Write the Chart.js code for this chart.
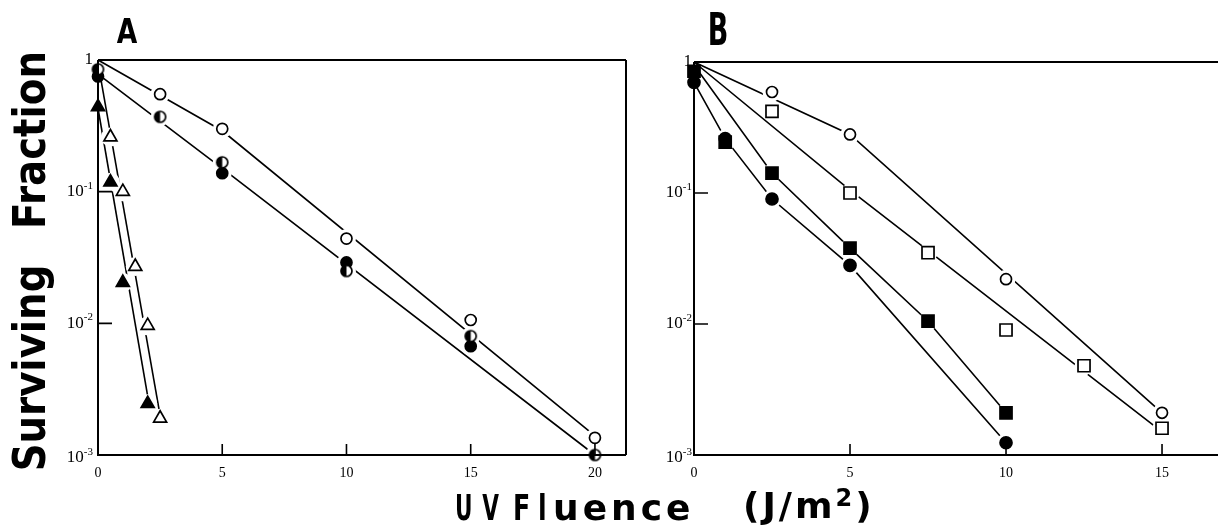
<!DOCTYPE html>
<html>
<head>
<meta charset="utf-8">
<script src="https://cdn.jsdelivr.net/npm/chart.js@4.4.0/dist/chart.umd.min.js"></script>
<style>
  html, body { margin: 0; padding: 0; background: #fff; overflow: hidden; width: 1218px; height: 526px; }
  canvas { position: absolute; top: 0; }
  .lbl { position: absolute; font-family: 'DejaVu Sans', sans-serif; font-weight: bold; color: #000; white-space: nowrap; line-height: 1; }
</style>
</head>
<body>
<canvas id="chartA" width="640" height="526" style="left:0"></canvas>
<canvas id="chartB" width="680" height="526" style="left:600px"></canvas>

<div class="lbl" style="left:127px;top:31px;font-size:34px;transform:translate(-50%,-50%) scaleX(0.78)">A</div>
<div class="lbl" style="left:718px;top:29px;font-size:45px;transform:translate(-50%,-50%) scaleX(0.6)">B</div>
<div class="lbl" style="left:29px;top:140px;font-size:45px;transform:translate(-50%,-50%) rotate(-90deg) scaleX(0.86)">Fraction</div>
<div class="lbl" style="left:29px;top:368px;font-size:45px;transform:translate(-50%,-50%) rotate(-90deg) scaleX(0.86)">Surviving</div>
<div class="lbl" style="left:455px;top:490px;font-size:36px;letter-spacing:16px;transform-origin:left top;transform:scaleX(0.6)">UV</div>
<div class="lbl" style="left:513px;top:490px;font-size:36px;letter-spacing:11px;transform-origin:left top;transform:scaleX(0.7)">Fl</div>
<div class="lbl" style="left:553px;top:490px;font-size:36px;letter-spacing:4px">uence</div>
<div class="lbl" style="left:743px;top:486px;font-size:36px;letter-spacing:3px">(J/m<span style="font-size:24px;vertical-align:12px">2</span>)</div>

<script>
// tick values / labels
var xTicksA = [0, 5, 10, 15, 20];
var xTicksB = [0, 5, 10, 15];
var yTicks = [0.001, 0.01, 0.1, 1];
var yTickBase = ['10', '10', '10', '1'];
var yTickExp = ['-3', '-2', '-1', ''];

// ---- panel A ----
var aOpenCircX = [2.5, 5, 10, 15, 20];
var aOpenCircY = [0.55, 0.30, 0.044, 0.0106, 0.00135];
var aHalfCircX = [0, 2.5, 5, 10, 15, 20];
var aHalfCircY = [0.85, 0.37, 0.167, 0.025, 0.008, 0.001];
var aFillCircX = [0, 5, 10, 15];
var aFillCircY = [0.75, 0.138, 0.029, 0.0067];
var aFillTriX = [0, 0.5, 1, 2];
var aFillTriY = [0.44, 0.118, 0.0204, 0.00245];
var aOpenTriX = [0.5, 1, 1.5, 2, 2.5];
var aOpenTriY = [0.26, 0.10, 0.027, 0.0096, 0.0019];
// curves drawn through the points
var aUpperFitX = [0, 5, 20],  aUpperFitY = [1, 0.29, 0.0014];
var aLowerFitX = [0, 5, 20],  aLowerFitY = [0.78, 0.15, 0.001];
var aFillTriFitX = [0, 2],    aFillTriFitY = [0.43, 0.0028];
var aOpenTriFitX = [0, 2.5],  aOpenTriFitY = [0.95, 0.002];

// ---- panel B ----
var bOpenCircX = [2.5, 5, 10, 15];
var bOpenCircY = [0.59, 0.28, 0.022, 0.0021];
var bOpenSqX = [2.5, 5, 7.5, 10, 12.5, 15];
var bOpenSqY = [0.42, 0.10, 0.035, 0.009, 0.0048, 0.0016];
var bFillSqX = [0, 1, 2.5, 5, 7.5, 10];
var bFillSqY = [0.85, 0.245, 0.142, 0.038, 0.0105, 0.0021];
var bFillCircX = [0, 1, 2.5, 5, 10];
var bFillCircY = [0.7, 0.26, 0.09, 0.028, 0.00124];
var bOpenCircFitX = [0, 5, 15],  bOpenCircFitY = [1, 0.28, 0.0021];
var bOpenSqFitX = [0, 5, 15],    bOpenSqFitY = [1, 0.105, 0.0015];
var bFillSqFitX = [0, 2.5, 5, 7.5, 10], bFillSqFitY = [0.95, 0.142, 0.038, 0.0105, 0.0021];
var bFillCircFitX = [0, 1, 2.5, 5, 10], bFillCircFitY = [0.7, 0.26, 0.09, 0.028, 0.00124];

function pts(xs, ys) {
  return xs.map(function (x, i) { return { x: x, y: ys[i] }; });
}

// half filled circle marker
function halfDisc(r) {
  var c = document.createElement('canvas');
  var s = Math.ceil(2 * r + 4);
  c.width = s; c.height = s;
  var g = c.getContext('2d'), m = s / 2;
  g.fillStyle = '#fff'; g.beginPath(); g.arc(m, m, r, 0, 2 * Math.PI); g.fill();
  g.fillStyle = '#000'; g.beginPath(); g.arc(m, m, r, Math.PI / 2, 3 * Math.PI / 2); g.closePath(); g.fill();
  g.lineWidth = 1.7; g.strokeStyle = '#000'; g.beginPath(); g.arc(m, m, r, 0, 2 * Math.PI); g.stroke();
  return c;
}

function marks(xs, ys, style, fill, r) {
  return { data: pts(xs, ys), showLine: false, pointStyle: style, pointRadius: r,
    pointBackgroundColor: fill, pointBorderColor: '#000', pointBorderWidth: 1.7, order: 1, clip: false };
}
// white ring round each marker, so the lines stop short of it
function halo(xs, ys) {
  return { data: pts(xs, ys), showLine: false, pointStyle: 'circle',
    pointRadius: xs.map(function (x) { return x === 0 ? 0 : 9.5; }),
    pointBackgroundColor: '#fff', pointBorderColor: '#fff', pointBorderWidth: 0, order: 2, clip: false };
}
function fit(xs, ys) {
  return { data: pts(xs, ys), showLine: true, borderColor: '#000', borderWidth: 1.6,
    pointRadius: 0, fill: false, order: 3, clip: false };
}

var frame = {
  id: 'frame',
  afterDatasetsDraw: function (chart, args, opts) {
    var a = chart.chartArea, g = chart.ctx, xs = chart.scales.x, ys = chart.scales.y;
    g.save();
    g.strokeStyle = '#000';
    g.lineWidth = 2;
    g.beginPath();
    g.moveTo(a.left, a.top); g.lineTo(a.left, a.bottom); g.lineTo(a.right, a.bottom);
    g.moveTo(a.left, a.top); g.lineTo(a.right, a.top);
    if (opts.right) { g.moveTo(a.right, a.top); g.lineTo(a.right, a.bottom); }
    g.stroke();
    g.lineWidth = 1.6;
    g.beginPath();
    opts.xMarks.forEach(function (v) {
      var px = xs.getPixelForValue(v);
      g.moveTo(px, a.bottom); g.lineTo(px, a.bottom - 11);
    });
    yTicks.slice(1, 3).forEach(function (v) {
      var py = ys.getPixelForValue(v);
      g.moveTo(a.left, py); g.lineTo(a.left + 14, py);
    });
    g.stroke();

    // y tick labels with a raised exponent
    g.fillStyle = '#000';
    g.textBaseline = 'middle';
    g.textAlign = 'left';
    yTicks.forEach(function (v, i) {
      var py = ys.getPixelForValue(v) + (i === 0 ? 3 : 0);
      g.font = '11px "Liberation Serif"';
      var ew = yTickExp[i] ? g.measureText(yTickExp[i]).width : 0;
      g.font = '17px "Liberation Serif"';
      var bw = g.measureText(yTickBase[i]).width;
      var xr = a.left - opts.labelGap;
      g.fillText(yTickBase[i], xr - ew - bw, py);
      if (ew) {
        g.font = '11px "Liberation Serif"';
        g.fillText(yTickExp[i], xr - ew, py - 6);
      }
    });
    g.restore();
  }
};

function makeOptions(xTicks, xMax, yWidth, pad, frameOpts) {
  return {
    responsive: false,
    animation: false,
    events: [],
    layout: { padding: pad },
    plugins: { legend: { display: false }, tooltip: { enabled: false }, frame: frameOpts },
    scales: {
      x: {
        type: 'linear', min: 0, max: xMax,
        grid: { display: false, drawTicks: false }, border: { display: false },
        afterBuildTicks: function (s) { s.ticks = xTicks.map(function (v) { return { value: v }; }); },
        afterFit: function (s) { s.height = 71; },
        ticks: { padding: 10, color: '#000', autoSkip: false, maxRotation: 0,
          font: { family: 'Liberation Serif', size: 14 } }
      },
      y: {
        type: 'logarithmic', min: 0.001, max: 1,
        grid: { display: false, drawTicks: false }, border: { display: false },
        afterBuildTicks: function (s) { s.ticks = yTicks.map(function (v) { return { value: v }; }); },
        afterFit: function (s) { s.width = yWidth; },
        ticks: { display: false }
      }
    }
  };
}

var chartA = new Chart(document.getElementById('chartA'), {
  type: 'scatter',
  data: {
    datasets: [
      marks(aOpenCircX, aOpenCircY, 'circle', '#fff', 5.5),
      marks(aHalfCircX, aHalfCircY, halfDisc(5.5), '#fff', 5.5),
      marks(aFillCircX, aFillCircY, 'circle', '#000', 5.5),
      marks(aFillTriX, aFillTriY, 'triangle', '#000', 7.5),
      marks(aOpenTriX, aOpenTriY, 'triangle', '#fff', 7.5),
      halo(aOpenCircX, aOpenCircY),
      halo(aHalfCircX, aHalfCircY),
      halo(aFillCircX, aFillCircY),
      halo(aFillTriX, aFillTriY),
      halo(aOpenTriX, aOpenTriY),
      fit(aUpperFitX, aUpperFitY),
      fit(aLowerFitX, aLowerFitY),
      fit(aFillTriFitX, aFillTriFitY),
      fit(aOpenTriFitX, aOpenTriFitY)
    ]
  },
  options: makeOptions(xTicksA, 21.25, 98, { left: 0, top: 60, right: 14, bottom: 0 },
    { right: true, labelGap: 5, xMarks: xTicksA.slice(1) }),
  plugins: [frame]
});

var chartB = new Chart(document.getElementById('chartB'), {
  type: 'scatter',
  data: {
    datasets: [
      marks(bOpenCircX, bOpenCircY, 'circle', '#fff', 5.5),
      marks(bOpenSqX, bOpenSqY, 'rect', '#fff', 8.5),
      marks(bFillSqX, bFillSqY, 'rect', '#000', 8.5),
      marks(bFillCircX, bFillCircY, 'circle', '#000', 6),
      halo(bOpenCircX, bOpenCircY),
      halo(bOpenSqX, bOpenSqY),
      halo(bFillSqX, bFillSqY),
      halo(bFillCircX, bFillCircY),
      fit(bOpenCircFitX, bOpenCircFitY),
      fit(bOpenSqFitX, bOpenSqFitY),
      fit(bFillSqFitX, bFillSqFitY),
      fit(bFillCircFitX, bFillCircFitY)
    ]
  },
  options: makeOptions(xTicksB, 18.14, 94, { left: 0, top: 62, right: 20, bottom: 0 },
    { right: false, labelGap: 2, xMarks: xTicksB.slice(1) }),
  plugins: [frame]
});
</script>
</body>
</html>
